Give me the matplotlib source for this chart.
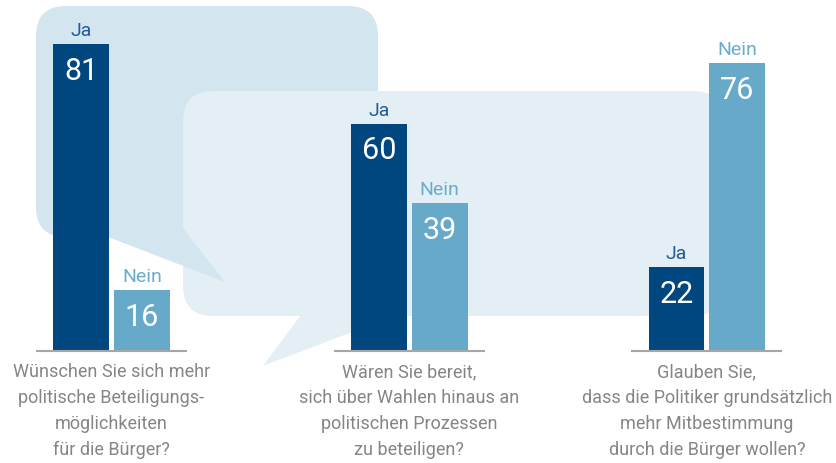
import matplotlib.pyplot as plt
from matplotlib.patches import FancyBboxPatch, Polygon

# Daten
questions = [
    "Wünschen Sie sich mehr\npolitische Beteiligungs-\nmöglichkeiten\nfür die Bürger?",
    "Wären Sie bereit,\nsich über Wahlen hinaus an\npolitischen Prozessen\nzu beteiligen?",
    "Glauben Sie,\ndass die Politiker grundsätzlich\nmehr Mitbestimmung\ndurch die Bürger wollen?",
]
ja = [81, 60, 22]
nein = [16, 39, 76]
series_labels = ["Ja", "Nein"]

# Farben
c_ja = "#00467f"
c_nein = "#67a9c8"
c_ja_txt = "#245b94"
c_nein_txt = "#6aaccb"
c_bub1 = "#d3e5ef"
c_bub2 = "#e3eff5"
c_text = "#858585"
c_base = "#a6a6a6"

fonts = ["Roboto", "DejaVu Sans"]

W, H = 837, 464
fig = plt.figure(figsize=(W / 100, H / 100), dpi=100)

# Hintergrund: Sprechblasen (Pixelkoordinaten)
bg = fig.add_axes([0, 0, 1, 1])
bg.set_xlim(0, W)
bg.set_ylim(H, 0)
bg.axis("off")

bub1 = FancyBboxPatch((36, 7), 342, 231, boxstyle="round,pad=0,rounding_size=30",
                      fc=c_bub1, ec="none")
bg.add_patch(bub1)
bub2 = FancyBboxPatch((183, 92), 540, 225, boxstyle="round,pad=0,rounding_size=30",
                      fc=c_bub2, ec="none")
bg.add_patch(bub2)
bg.add_patch(Polygon([(300, 300), (300, 317), (263, 367), (394, 317), (394, 300)],
                     closed=True, fc=c_bub2, ec="none"))
bg.add_patch(Polygon([(108, 238), (225, 283), (160, 200)],
                     closed=True, fc=c_bub1, ec="none"))

# Balken
ax = fig.add_axes([0, 0, 1, 1])
ax.patch.set_alpha(0)
ax.axis("off")
ax.set_xlim(-0.3745, 2.4367)
ax.set_ylim(-29.66, 92.9)

width = 0.188
off = 0.1024
x = list(range(len(questions)))

for i in x:
    for val, dx, col, tcol, lab in [(ja[i], -off, c_ja, c_ja_txt, series_labels[0]),
                                    (nein[i], off, c_nein, c_nein_txt, series_labels[1])]:
        ax.bar(i + dx, val, width=width, color=col, linewidth=0)
        ax.annotate(lab, (i + dx, val), xytext=(0, 6.5), textcoords="offset points",
                    ha="center", va="baseline", fontsize=14, color=tcol, family=fonts)
        ax.annotate(str(val), (i + dx, val), xytext=(0, -25), textcoords="offset points",
                    ha="center", va="baseline", fontsize=22, color="white", family=fonts)
    ax.plot([i - 0.2536, i + 0.2536], [0, 0], color=c_base, lw=1.5, solid_capstyle="butt")
    ax.text(i, -15.66, questions[i], ha="center", va="center", fontsize=13,
            color=c_text, family=fonts, linespacing=1.55)

fig.savefig("out.png", dpi=100)
